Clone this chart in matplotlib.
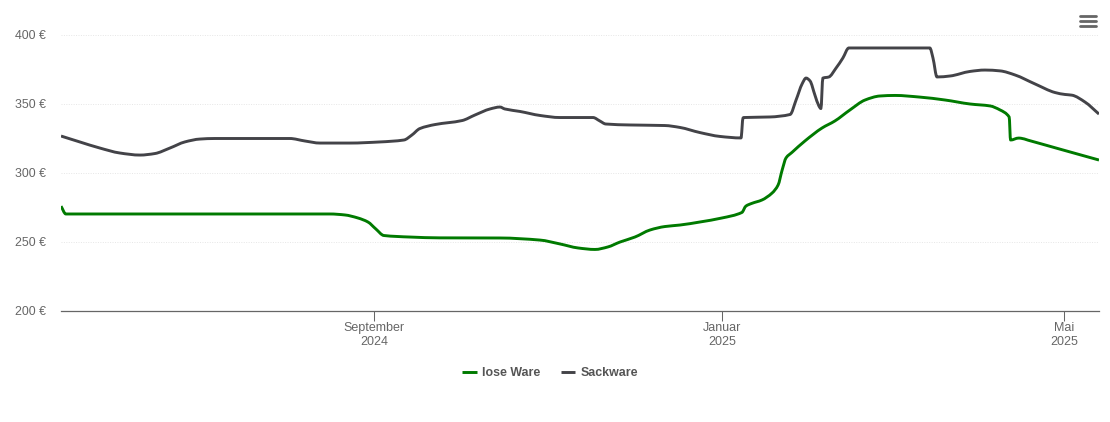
import matplotlib
matplotlib.use("Agg")
import matplotlib.pyplot as plt
from matplotlib.lines import Line2D
from matplotlib.patches import PathPatch
from matplotlib.path import Path
from matplotlib.transforms import ScaledTranslation
import matplotlib.dates as mdates
import numpy as np

# Tage seit dem 1. September 2024
start = np.datetime64("2024-09-01")

lose_tage = [-109.7, -108.0, -15.4, -10.2, -5.6, -2.1, 0.7, 3.5, 12.6, 23.1, 44.2, 58.2,
             65.2, 71.5, 77.5, 82.0, 86.3, 91.5, 96.8, 102.0, 107.3, 114.3, 122.0, 129.0,
             130.4, 132.5, 136.0, 139.6, 141.7, 143.1, 144.5, 146.6, 151.1, 157.1, 161.6,
             166.9, 172.2, 177.4, 182.7, 191.4, 200.2, 209.0, 216.0, 219.5, 222.7, 223.2,
             226.0, 226.8, 229.3, 240.5, 254.2]
lose_preis = [276, 270.3, 270.3, 269.6, 267.4, 264.5, 259.4, 254.7, 253.6, 253, 252.9, 251.4,
              248.6, 245.7, 244.6, 246.4, 250, 253.6, 258.7, 261.2, 262.3, 264.5, 267.4, 271.4,
              276, 278, 280.4, 285.5, 291.3, 302, 311, 315, 323.2, 332.6, 337.7,
              345.7, 352.9, 355.8, 356.2, 355, 352.9, 350, 348.6, 345.7, 340.6, 323.9,
              325.3, 325.2, 323.8, 317.3, 309.4]

sack_tage = [-109.7, -103.1, -96.1, -89.1, -82.0, -76.8, -71.5, -66.3, -61.0, -55.8, -29.5,
             -24.2, -18.9, -8.4, 2.1, 10.5, 13.3, 16.1, 21.4, 30.9, 35.4, 40.7, 44.2, 45.9,
             51.2, 58.2, 65.2, 76.8, 79.2, 81.3, 89.8, 102.0, 107.3, 114.3, 121.3, 128.7,
             129.4, 129.7, 138.8, 145.9, 148.0, 150.1, 151.5, 152.9, 154.6, 156.0, 156.7,
             157.4, 159.5, 162.0, 164.4, 166.5, 194.9, 196.0, 197.4, 202.0, 209.0, 214.2,
             219.5, 224.8, 231.8, 238.8, 242.3, 244.7, 249.3, 254.2]
sack_preis = [326.8, 322.5, 318.1, 314.5, 313, 314.1, 318.1, 322.5, 324.6, 325, 325,
              323.2, 321.7, 321.7, 322.5, 323.9, 327.5, 332.2, 335.1, 338, 342, 346.4, 347.8, 346.4,
              344.6, 341.7, 340.2, 340.2, 337.7, 335.5, 334.8, 334.4, 333, 329.3, 326.5, 325.4,
              339.9, 340.2, 340.6, 342.4, 352.9, 364.5, 368.8, 366.7, 356.5, 348.6, 346.7,
              368.8, 369.6, 376, 383.3, 390.6, 390.6, 383.3, 369.6, 370.3, 373.6, 374.6,
              374, 371, 364.5, 358.3, 356.9, 356.4, 351.4, 342.7]

y_ticks = [200, 250, 300, 350, 400]
x_tick_dates = ["2024-09-01", "2025-01-01", "2025-05-01"]
x_tick_labels = ["September\n2024", "Januar\n2025", "Mai\n2025"]

W, H = 1110, 422
GRUEN = "#007a00"
GRAU = "#434348"
TEXT = "#666666"
LW = 2.1

plt.rcParams["font.family"] = ["Liberation Sans", "DejaVu Sans"]

fig = plt.figure(figsize=(W / 100, H / 100), dpi=100)
ax = fig.add_axes([61 / W, 1 - 311 / H, (1099 - 61) / W, (311 - 35) / H])


def zu_datum(tage):
    # Tage in matplotlib-Datumszahlen umrechnen
    return mdates.date2num(start) + np.array(tage)


def spline_pfad(x, y):
    # Bezier-Pfad durch die Punkte, ohne Ueberschwingen an Knicken
    x = np.asarray(x, float)
    y = np.asarray(y, float)
    dx = np.diff(x)
    s = np.diff(y) / dx
    m = np.zeros_like(y)
    m[0], m[-1] = s[0], s[-1]
    for i in range(1, len(y) - 1):
        if s[i - 1] * s[i] > 0:
            m[i] = 2 * s[i - 1] * s[i] / (s[i - 1] + s[i])
    verts = [(x[0], y[0])]
    codes = [Path.MOVETO]
    for i in range(len(dx)):
        verts += [(x[i] + dx[i] / 3, y[i] + m[i] * dx[i] / 3),
                  (x[i + 1] - dx[i] / 3, y[i + 1] - m[i + 1] * dx[i] / 3),
                  (x[i + 1], y[i + 1])]
        codes += [Path.CURVE4] * 3
    return Path(verts, codes)


for tage, preis, farbe in [(lose_tage, lose_preis, GRUEN), (sack_tage, sack_preis, GRAU)]:
    ax.add_patch(PathPatch(spline_pfad(zu_datum(tage), preis), fc="none", ec=farbe, lw=LW,
                           joinstyle="round", zorder=3))

ax.set_xlim(zu_datum([-109.7, 254.2]))
ax.set_ylim(200, 400)

for s in ["top", "left", "right"]:
    ax.spines[s].set_visible(False)
ax.spines["bottom"].set_color(TEXT)
ax.spines["bottom"].set_linewidth(0.9)

ax.set_yticks(y_ticks)
ax.set_yticklabels([f"{v} €" for v in y_ticks])
ax.tick_params(axis="y", length=0, pad=11, labelsize=8.9, labelcolor=TEXT)
for lab in ax.get_yticklabels():
    lab.set_transform(lab.get_transform() + ScaledTranslation(0, 0.2 / 72, fig.dpi_scale_trans))
ax.set_xticks(mdates.date2num(np.array(x_tick_dates, dtype="datetime64[D]")))
ax.set_xticklabels(x_tick_labels, linespacing=1.25)
ax.tick_params(axis="x", length=7, width=0.75, color=TEXT, pad=1, labelsize=9, labelcolor=TEXT)

ax.grid(axis="y", color="#e6e6e6", lw=0.7, ls=(0, (1, 1.5)), zorder=0)
ax.set_axisbelow(True)

handles = [Line2D([], [], color=GRUEN, lw=LW, solid_capstyle="butt"),
           Line2D([], [], color=GRAU, lw=LW, solid_capstyle="butt")]
fig.legend(handles, ["lose Ware", "Sackware"], loc="center", bbox_to_anchor=(550 / W, 1 - 373 / H),
           ncols=2, frameon=False, handlelength=1.2, handletextpad=0.4, columnspacing=1.65,
           prop={"size": 8.9, "weight": "bold"}, labelcolor="#555555")

# Menü-Symbol oben rechts
for y in [16, 21, 26]:
    fig.add_artist(Line2D([1080 / W, 1096 / W], [1 - y / H, 1 - y / H], color=TEXT, lw=2.0,
                          solid_capstyle="round"))

fig.savefig("out.png", dpi=100)
